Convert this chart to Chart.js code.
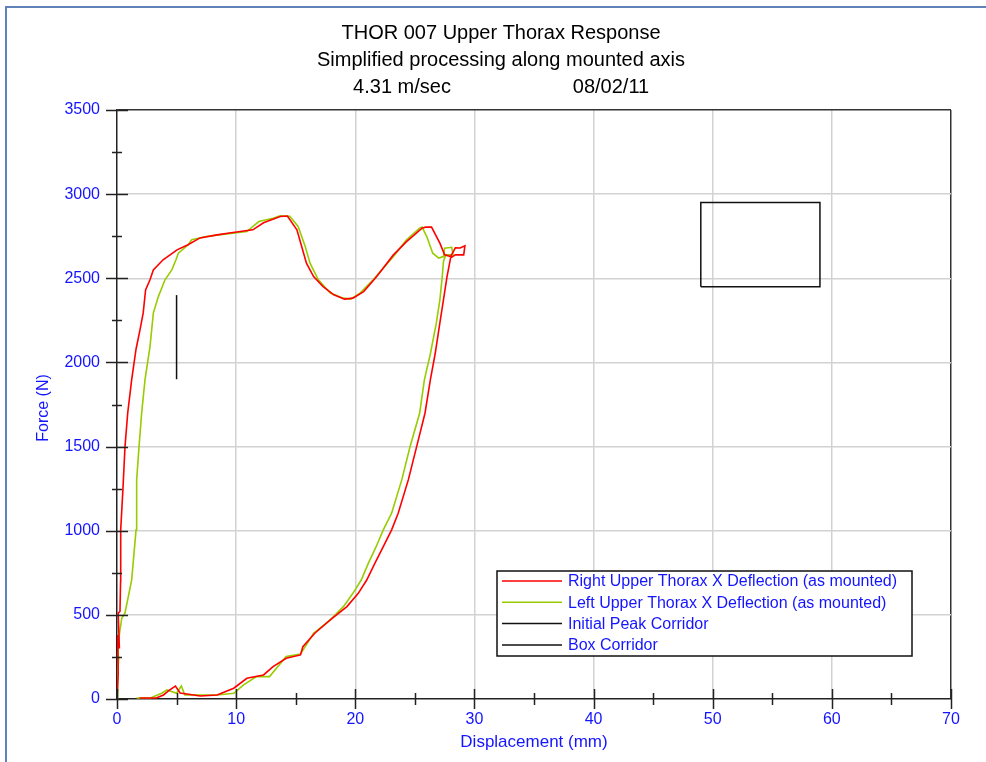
<!DOCTYPE html>
<html>
<head>
<meta charset="utf-8">
<title>THOR 007 Upper Thorax Response</title>
<script src="https://cdn.jsdelivr.net/npm/chart.js@4.4.1/dist/chart.umd.min.js"></script>
<style>
  html, body { margin: 0; padding: 0; background: #ffffff; }
  canvas { display: block; }
</style>
</head>
<body>
<canvas id="thoraxChart" width="986" height="762"></canvas>
<script>
// Chart text
const titleLines = ['THOR 007 Upper Thorax Response', 'Simplified processing along mounted axis'];
const speedText = '4.31 m/sec';
const dateText = '08/02/11';
const xAxisTitle = 'Displacement (mm)';
const yAxisTitle = 'Force (N)';

// Axis ranges / tick steps
const xTicks = [0, 10, 20, 30, 40, 50, 60, 70];
const yTicks = [0, 500, 1000, 1500, 2000, 2500, 3000, 3500];

// Right Upper Thorax X Deflection (as mounted) - red
const rightDisp = [0, 0.1, 0.05, 0.2, 0.1, 0.25, 0.3, 0.31, 0.5, 0.67, 0.9, 1.23, 1.6, 1.93, 2.2, 2.4, 2.77, 3.05, 3.87, 5.04,
  5.96, 6.97, 8.4, 9.74, 11.4, 12.3, 13.7, 14.3, 15.1, 15.5, 15.9, 16.5, 17.3, 18.2, 19.1, 19.8, 20.7, 21.8, 23.2, 24.3,
  25.6, 25.9, 26.4, 27.1, 27.5, 28.0, 28.4, 28.8, 29.2, 29.1, 28.4, 28.0, 27.7, 27.4, 27.1, 26.7, 26.3, 25.85, 25.15, 24.45,
  23.6, 23.05, 22.35, 21.65, 20.96, 20.25, 19.3, 17.9, 16.6, 15.6, 15.4, 14.2, 13.1, 12.3, 10.9, 9.8, 8.4, 7.0, 5.3, 4.9,
  4.4, 3.9, 3.3, 1.9];
const rightForce = [0, 150, 380, 300, 510, 520, 700, 1005, 1250, 1498, 1700, 1896, 2080, 2193, 2294, 2431, 2491, 2550, 2610, 2669,
  2699, 2740, 2758, 2772, 2788, 2830, 2867, 2870, 2788, 2689, 2590, 2510, 2451, 2402, 2376, 2382, 2421, 2510, 2639, 2718,
  2798, 2804, 2804, 2709, 2639, 2629, 2681, 2680, 2693, 2639, 2639, 2621, 2510, 2372, 2235, 2050, 1896, 1698, 1500, 1302,
  1104, 1005, 905, 807, 707, 628, 549, 470, 391, 311, 262, 242, 192, 143, 123, 64, 24, 18, 36, 77,
  53, 24, 6, 6];

// Left Upper Thorax X Deflection (as mounted) - green
const leftDisp = [0, 0.05, 0.15, 0.1, 0.25, 0.4, 0.67, 0.95, 1.23, 1.6, 1.65, 1.85, 2.07, 2.35, 2.77, 3.05, 3.47, 4.03, 4.6, 4.95,
  5.15, 5.98, 6.27, 7.5, 9.2, 10.9, 11.9, 13.1, 13.7, 14.5, 15.2, 15.8, 16.2, 16.9, 17.9, 19.0, 19.6, 20.4, 21.5, 23.2,
  24.3, 25.4, 25.6, 26.0, 26.5, 27.0, 27.4, 27.5, 28.1, 28.2, 27.6, 27.4, 27.3, 27.1, 26.8, 26.3, 25.8, 25.4, 24.6, 23.9,
  23.05, 22.35, 21.75, 21.1, 20.5, 19.8, 19.0, 17.9, 16.5, 15.4, 14.2, 12.8, 11.7, 10.6, 9.8, 8.4, 7.0, 5.7, 5.4, 5.0,
  4.2, 3.75, 2.8, 1.65];
const leftForce = [0, 150, 250, 330, 410, 480, 511, 608, 707, 1005, 1302, 1500, 1700, 1896, 2094, 2293, 2391, 2491, 2550, 2610,
  2649, 2699, 2729, 2748, 2764, 2778, 2837, 2857, 2871, 2868, 2808, 2689, 2590, 2491, 2412, 2382, 2376, 2412, 2491, 2629,
  2728, 2798, 2804, 2748, 2649, 2620, 2629, 2679, 2684, 2639, 2640, 2600, 2510, 2372, 2233, 2050, 1896, 1698, 1500, 1302,
  1104, 1005, 905, 807, 707, 628, 549, 470, 391, 267, 252, 133, 133, 83, 34, 24, 24, 24, 77, 34,
  54, 34, 6, 6];

// Corridors
const peakCorridorDisp = [5, 5];
const peakCorridorForce = [1900, 2400];
const boxCorridorDisp = [49, 59, 59, 49, 49];
const boxCorridorForce = [2450, 2450, 2950, 2950, 2450];

const blueText = '#1414ff';
const fontFamily = '"Liberation Sans", Arial, sans-serif';

const toPoints = (xs, ys) => xs.map((x, i) => ({ x: x, y: ys[i] }));

// frame, titles, axis titles, crossing tick marks and legend box
const decorPlugin = {
  id: 'decor',
  beforeDraw: (chart) => {
    const ctx = chart.ctx;
    ctx.save();
    ctx.fillStyle = '#ffffff';
    ctx.fillRect(0, 0, chart.width, chart.height);
    ctx.strokeStyle = '#5f82b8';
    ctx.lineWidth = 2;
    ctx.beginPath();
    ctx.moveTo(6, chart.height);
    ctx.lineTo(6, 7);
    ctx.lineTo(chart.width, 7);
    ctx.stroke();
    ctx.restore();
  },
  afterDraw: (chart) => {
    const ctx = chart.ctx;
    const xs = chart.scales.x;
    const ys = chart.scales.y;
    const area = chart.chartArea;
    ctx.save();

    // title lines
    ctx.fillStyle = '#000000';
    ctx.font = '20px ' + fontFamily;
    ctx.textAlign = 'center';
    ctx.textBaseline = 'alphabetic';
    ctx.fillText(titleLines[0], 501, 39);
    ctx.fillText(titleLines[1], 501, 66);
    ctx.fillText(speedText, 402, 93);
    ctx.fillText(dateText, 611, 93);

    // axis titles
    ctx.fillStyle = blueText;
    ctx.font = '17px ' + fontFamily;
    ctx.fillText(xAxisTitle, (area.left + area.right) / 2, 747);
    ctx.save();
    ctx.translate(48, 408);
    ctx.rotate(-Math.PI / 2);
    ctx.font = '16px ' + fontFamily;
    ctx.fillText(yAxisTitle, 0, 0);
    ctx.restore();

    // tick marks crossing the axes
    ctx.strokeStyle = '#222222';
    ctx.lineWidth = 1.5;
    ctx.beginPath();
    for (let v = 0; v <= 3500; v += 250) {
      const py = Math.round(ys.getPixelForValue(v)) + 0.5;
      const len = v % 500 === 0 ? 11 : 5;
      ctx.moveTo(area.left - len, py);
      ctx.lineTo(area.left + len, py);
    }
    for (let v = 0; v <= 70; v += 5) {
      const px = Math.round(xs.getPixelForValue(v)) + 0.5;
      const len = v % 10 === 0 ? 10 : 6;
      ctx.moveTo(px, area.bottom - len);
      ctx.lineTo(px, area.bottom + len);
    }
    ctx.stroke();

    // legend
    const box = { left: 497, top: 571, right: 912, bottom: 656 };
    ctx.fillStyle = '#ffffff';
    ctx.fillRect(box.left, box.top, box.right - box.left, box.bottom - box.top);
    ctx.strokeStyle = '#111111';
    ctx.lineWidth = 1.5;
    ctx.strokeRect(box.left, box.top, box.right - box.left, box.bottom - box.top);
    ctx.font = '16px ' + fontFamily;
    ctx.textAlign = 'left';
    ctx.textBaseline = 'middle';
    chart.data.datasets.forEach((ds, i) => {
      const rowY = 581 + i * 21.3;
      ctx.strokeStyle = ds.borderColor;
      ctx.lineWidth = 1.5;
      ctx.beginPath();
      ctx.moveTo(502, rowY);
      ctx.lineTo(562, rowY);
      ctx.stroke();
      ctx.fillStyle = blueText;
      ctx.fillText(ds.label, 568, rowY + 1);
    });
    ctx.restore();
  }
};

const gridColor = (edgeValue) => (context) => {
  const v = context.tick.value;
  if (v === 0) return 'rgba(0,0,0,0)';
  if (v === edgeValue) return '#333333';
  return '#d2d2d2';
};

new Chart(document.getElementById('thoraxChart').getContext('2d'), {
  type: 'scatter',
  data: {
    datasets: [{
      label: 'Right Upper Thorax X Deflection (as mounted)',
      data: toPoints(rightDisp, rightForce),
      borderColor: '#ff0000',
      borderWidth: 1.6,
      showLine: true,
      pointRadius: 0,
      order: 1
    }, {
      label: 'Left Upper Thorax X Deflection (as mounted)',
      data: toPoints(leftDisp, leftForce),
      borderColor: '#99cc00',
      borderWidth: 1.6,
      showLine: true,
      pointRadius: 0,
      order: 2
    }, {
      label: 'Initial Peak Corridor',
      data: toPoints(peakCorridorDisp, peakCorridorForce),
      borderColor: '#111111',
      borderWidth: 1.5,
      showLine: true,
      pointRadius: 0,
      order: 3
    }, {
      label: 'Box Corridor',
      data: toPoints(boxCorridorDisp, boxCorridorForce),
      borderColor: '#111111',
      borderWidth: 1.5,
      showLine: true,
      pointRadius: 0,
      order: 4
    }]
  },
  options: {
    responsive: false,
    animation: false,
    devicePixelRatio: 1,
    layout: { padding: { top: 110, right: 35, bottom: 0, left: 0 } },
    plugins: {
      legend: { display: false },
      title: { display: false },
      tooltip: { enabled: false }
    },
    scales: {
      x: {
        type: 'linear',
        min: 0,
        max: 70,
        afterFit: (scale) => { scale.height = 63; },
        afterBuildTicks: (scale) => { scale.ticks = xTicks.map(v => ({ value: v })); },
        grid: { color: gridColor(70), lineWidth: 1.5, drawTicks: false },
        border: { display: true, color: '#222222', width: 1.5 },
        ticks: {
          color: blueText, padding: 11, font: { size: 16, family: fontFamily },
          callback: (value) => String(value)
        }
      },
      y: {
        type: 'linear',
        min: 0,
        max: 3500,
        afterFit: (scale) => { scale.width = 117; },
        afterBuildTicks: (scale) => { scale.ticks = yTicks.map(v => ({ value: v })); },
        grid: { color: gridColor(3500), lineWidth: 1.5, drawTicks: false },
        border: { display: true, color: '#222222', width: 1.5 },
        ticks: {
          color: blueText, padding: 17, font: { size: 16, family: fontFamily },
          callback: (value) => String(value)
        }
      }
    }
  },
  plugins: [decorPlugin]
});
</script>
</body>
</html>
